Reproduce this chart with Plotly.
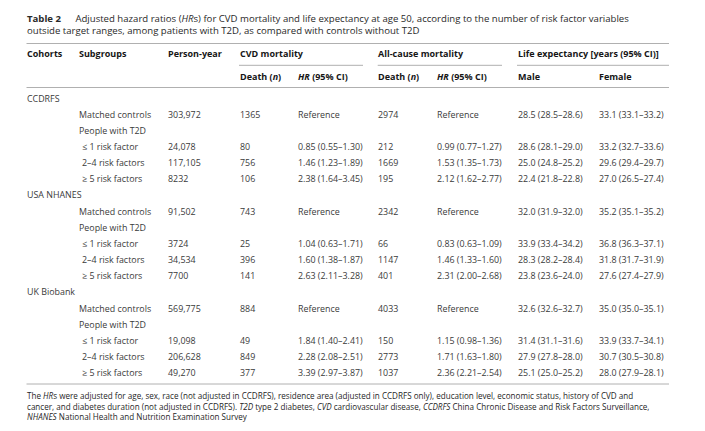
import plotly.graph_objects as go

# table values
cohorts = ["CCDRFS", "USA NHANES", "UK Biobank"]
subgroups = ["Matched controls", "People with T2D", "≤ 1 risk factor",
             "2–4 risk factors", "≥ 5 risk factors"]

person_year = [[303972, None, 24078, 117105, 8232],
               [91502, None, 3724, 34534, 7700],
               [569775, None, 19098, 206628, 49270]]

cvd_death = [[1365, None, 80, 756, 106],
             [743, None, 25, 396, 141],
             [884, None, 49, 849, 377]]

cvd_hr = [[None, None, (0.85, 0.55, 1.30), (1.46, 1.23, 1.89), (2.38, 1.64, 3.45)],
          [None, None, (1.04, 0.63, 1.71), (1.60, 1.38, 1.87), (2.63, 2.11, 3.28)],
          [None, None, (1.84, 1.40, 2.41), (2.28, 2.08, 2.51), (3.39, 2.97, 3.87)]]

all_death = [[2974, None, 212, 1669, 195],
             [2342, None, 66, 1147, 401],
             [4033, None, 150, 2773, 1037]]

all_hr = [[None, None, (0.99, 0.77, 1.27), (1.53, 1.35, 1.73), (2.12, 1.62, 2.77)],
          [None, None, (0.83, 0.63, 1.09), (1.46, 1.33, 1.60), (2.31, 2.00, 2.68)],
          [None, None, (1.15, 0.98, 1.36), (1.71, 1.63, 1.80), (2.36, 2.21, 2.54)]]

life_male = [[(28.5, 28.5, 28.6), None, (28.6, 28.1, 29.0), (25.0, 24.8, 25.2), (22.4, 21.8, 22.8)],
             [(32.0, 31.9, 32.0), None, (33.9, 33.4, 34.2), (28.3, 28.2, 28.4), (23.8, 23.6, 24.0)],
             [(32.6, 32.6, 32.7), None, (31.4, 31.1, 31.6), (27.9, 27.8, 28.0), (25.1, 25.0, 25.2)]]

life_female = [[(33.1, 33.1, 33.2), None, (33.2, 32.7, 33.6), (29.6, 29.4, 29.7), (27.0, 26.5, 27.4)],
               [(35.2, 35.1, 35.2), None, (36.8, 36.3, 37.1), (31.8, 31.7, 31.9), (27.6, 27.4, 27.9)],
               [(35.0, 35.0, 35.1), None, (33.9, 33.7, 34.1), (30.7, 30.5, 30.8), (28.0, 27.9, 28.1)]]

title_lines = [
    "<b>Table 2</b>\u2003\u2002Adjusted hazard ratios (<i>HR</i>s) for CVD mortality and life "
    "expectancy at age 50, according to the number of risk factor variables",
    "outside target ranges, among patients with T2D, as compared with controls without T2D",
]

footnote = [
    "The <i>HR</i>s were adjusted for age, sex, race (not adjusted in CCDRFS), residence area "
    "(adjusted in CCDRFS only), education level, economic status, history of CVD and",
    "cancer, and diabetes duration (not adjusted in CCDRFS). <i>T2D</i> type 2 diabetes, "
    "<i>CVD</i> cardiovascular disease, <i>CCDRFS</i> China Chronic Disease and Risk Factors Surveillance,",
    "<i>NHANES</i> National Health and Nutrition Examination Survey",
]


def fmt_n(v):
    if v is None:
        return ""
    return f"{v:,}" if v >= 10000 else str(v)


def fmt_hr(v):
    if v is None:
        return "Reference"
    return f"{v[0]:.2f} ({v[1]:.2f}–{v[2]:.2f})"


def fmt_le(v):
    if v is None:
        return ""
    return f"{v[0]:.1f} ({v[1]:.1f}–{v[2]:.1f})"


# layout in page pixels; the page body has an 8px margin, so the axes are shifted
W, H = 705, 431
OFF = 8
PAD = 1.5  # annotation inner padding
LEFT, RIGHT = 26.5, 669
col_x = {"cohort": 26.7, "sub": 78.7, "py": 167.5, "cvd_n": 239.3, "cvd_hr": 297,
         "all_n": 377.7, "all_hr": 436, "male": 517.3, "female": 598}
row0, row_h = 98, 16.16

FONT = "Open Sans"
TXT = "#3a3a3a"
HEAD = "#161616"
BODY = 8.9
NUM = 8.9
BOLD = 9.0

anns = []


def add(x, y, text, size=BODY, bold=False, color=TXT):
    if bold:
        text = f"<b>{text}</b>"
    anns.append(dict(x=x - PAD, y=y, xref="x", yref="y", text=text, showarrow=False,
                     xanchor="left", yanchor="middle", align="left",
                     font=dict(family=FONT, size=size, color=color)))


# title (two lines in one block)
add(26.7, 24.3, "<br>".join(title_lines), size=9.6, color="#2a2a2a")

# header
hy1, hy2 = 53.5, 76
add(col_x["cohort"], hy1, "Cohorts", size=BOLD, bold=True, color=HEAD)
add(col_x["sub"], hy1, "Subgroups", size=BOLD, bold=True, color=HEAD)
add(col_x["py"], hy1, "Person-year", size=BOLD, bold=True, color=HEAD)
add(col_x["cvd_n"], hy1, "CVD mortality", size=BOLD, bold=True, color=HEAD)
add(col_x["all_n"], hy1, "All-cause mortality", size=BOLD, bold=True, color=HEAD)
add(col_x["male"], hy1, "Life expectancy [years (95% CI)]", size=BOLD, bold=True, color=HEAD)
add(col_x["cvd_n"], hy2, "Death (<i>n</i>)", size=BOLD, bold=True, color=HEAD)
add(col_x["cvd_hr"], hy2, "<i>HR</i> (95% CI)", size=BOLD, bold=True, color=HEAD)
add(col_x["all_n"], hy2, "Death (<i>n</i>)", size=BOLD, bold=True, color=HEAD)
add(col_x["all_hr"], hy2, "<i>HR</i> (95% CI)", size=BOLD, bold=True, color=HEAD)
add(col_x["male"], hy2, "Male", size=BOLD, bold=True, color=HEAD)
add(col_x["female"], hy2, "Female", size=BOLD, bold=True, color=HEAD)

# body
r = 0
for c, cohort in enumerate(cohorts):
    add(col_x["cohort"], row0 + r * row_h, cohort)
    r += 1
    for s, sub in enumerate(subgroups):
        y = row0 + r * row_h
        add(col_x["sub"] + (3 if s >= 2 else 0), y, sub)
        if s != 1:
            add(col_x["py"], y, fmt_n(person_year[c][s]), size=NUM)
            add(col_x["cvd_n"], y, fmt_n(cvd_death[c][s]), size=NUM)
            add(col_x["cvd_hr"], y, fmt_hr(cvd_hr[c][s]), size=NUM)
            add(col_x["all_n"], y, fmt_n(all_death[c][s]), size=NUM)
            add(col_x["all_hr"], y, fmt_hr(all_hr[c][s]), size=NUM)
            add(col_x["male"], y, fmt_le(life_male[c][s]), size=NUM)
            add(col_x["female"], y, fmt_le(life_female[c][s]), size=NUM)
        r += 1

# footnote (one block)
add(26.7, 406, "<br>".join(footnote), size=8.1, color="#262626")

rule = dict(color="#b0b0b0", width=1)
shapes = [
    dict(type="line", x0=LEFT, x1=RIGHT, y0=43.5, y1=43.5, line=rule),
    dict(type="line", x0=239, x1=363, y0=65.3, y1=65.3, line=rule),
    dict(type="line", x0=377.7, x1=502, y0=65.3, y1=65.3, line=rule),
    dict(type="line", x0=517, x1=RIGHT, y0=65.3, y1=65.3, line=rule),
    dict(type="line", x0=LEFT, x1=RIGHT, y0=87.5, y1=87.5, line=rule),
    dict(type="line", x0=LEFT, x1=RIGHT, y0=384, y1=384, line=rule),
]
for sh in shapes:
    sh.update(xref="x", yref="y")

fig = go.Figure()
fig.update_layout(
    width=W, height=H,
    margin=dict(l=0, r=0, t=0, b=0),
    paper_bgcolor="white", plot_bgcolor="white",
    xaxis=dict(range=[OFF, W + OFF], visible=False, fixedrange=True),
    yaxis=dict(range=[H + OFF, OFF], visible=False, fixedrange=True),
    annotations=anns, shapes=shapes, showlegend=False,
)
fig.write_html("out.html")
